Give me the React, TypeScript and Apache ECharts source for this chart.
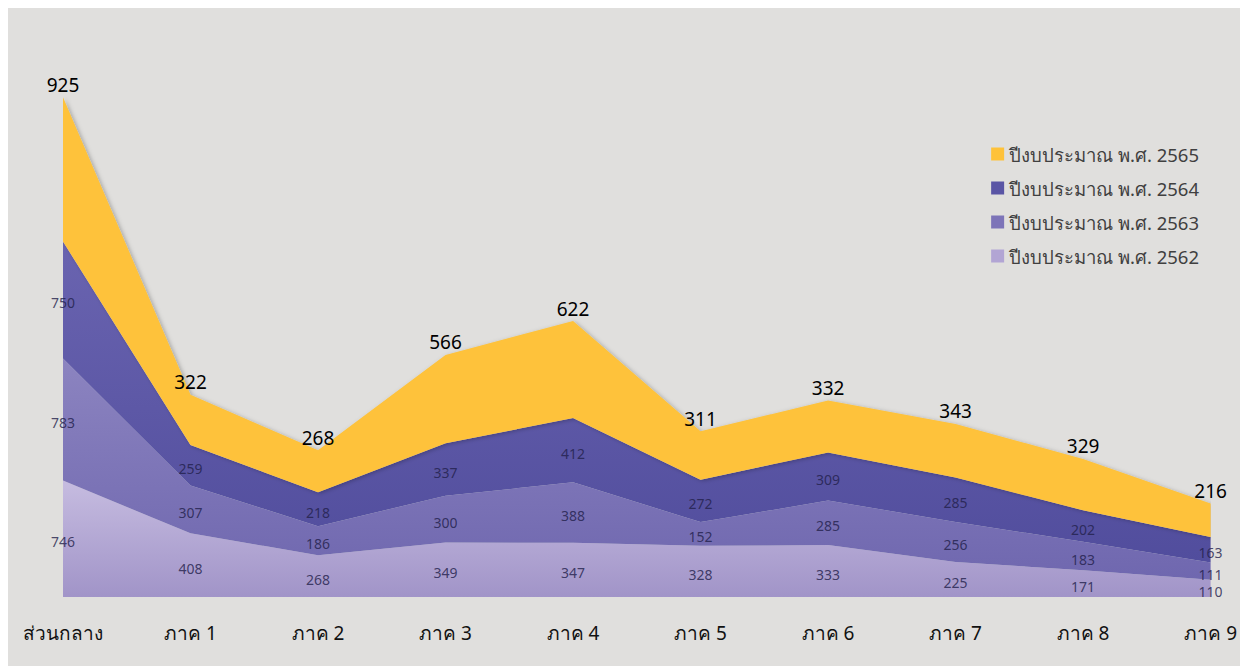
import React, { useEffect, useRef } from "react";
import * as echarts from "echarts";

const categories = ["ส่วนกลาง", "ภาค 1", "ภาค 2", "ภาค 3", "ภาค 4", "ภาค 5", "ภาค 6", "ภาค 7", "ภาค 8", "ภาค 9"];
const seriesNames = [
  "ปีงบประมาณ พ.ศ. 2562",
  "ปีงบประมาณ พ.ศ. 2563",
  "ปีงบประมาณ พ.ศ. 2564",
  "ปีงบประมาณ พ.ศ. 2565",
];
const budget2562 = [746, 408, 268, 349, 347, 328, 333, 225, 171, 110];
const budget2563 = [783, 307, 186, 300, 388, 152, 285, 256, 183, 111];
const budget2564 = [750, 259, 218, 337, 412, 272, 309, 285, 202, 163];
const budget2565 = [925, 322, 268, 566, 622, 311, 332, 343, 329, 216];

const FONT = "'Noto Sans', 'DejaVu Sans', sans-serif";

export default function App() {
  const ref = useRef<HTMLDivElement>(null);
  useEffect(() => {
    if (!ref.current) return;
    const chart = echarts.init(ref.current, undefined, { renderer: "svg" });
    const all = [budget2562, budget2563, budget2564, budget2565];
    const grad = (top: string, bottom: string) =>
      new echarts.graphic.LinearGradient(0, 0, 0, 1, [
        { offset: 0, color: top },
        { offset: 1, color: bottom },
      ]);
    const solid = ["#B2A5D4", "#7D74B8", "#5A55A5", "#FEC23A"];
    const fills = [
      grad("#C6BCE0", "#A194C8"),
      grad("#8C84C0", "#6F67AF"),
      grad("#6A64B0", "#514D9D"),
      "#FEC23A",
    ];
    const areaSeries = all.map((d, i) => ({
      name: seriesNames[i],
      type: "line",
      stack: "total",
      data: d,
      showSymbol: i === 3,
      symbol: "circle",
      symbolSize: 0,
      lineStyle: { width: 0 },
      itemStyle: { color: solid[i] },
      areaStyle:
        i === 3
          ? {
              color: fills[i],
              opacity: 1,
              shadowColor: "rgba(0,0,0,0.25)",
              shadowBlur: 4,
              shadowOffsetX: 2,
              shadowOffsetY: 1,
            }
          : { color: fills[i], opacity: 1 },
      label:
        i === 3
          ? {
              show: true,
              position: "top",
              distance: 3,
              fontSize: 19,
              color: "#000",
              fontFamily: FONT,
            }
          : { show: false },
      z: 2,
    }));
    const midSeries = [0, 1, 2].map((i) => ({
      name: "mid" + i,
      type: "scatter",
      symbolSize: 0,
      silent: true,
      z: 5,
      data: all[i].map((v, k) => {
        let base = 0;
        for (let j = 0; j < i; j++) base += all[j][k];
        return { value: [k, base + v / 2], raw: v };
      }),
      label: {
        show: true,
        position: "inside",
        offset: [0, 3],
        fontSize: 14,
        color: "#22204A",
        fontFamily: FONT,
        formatter: (p: any) => String(p.data.raw),
      },
    }));
    chart.setOption({
      animation: false,
      backgroundColor: "#E0DFDD",
      grid: { left: 55, right: 25, top: 43, bottom: 69 },
      legend: {
        data: [seriesNames[3], seriesNames[2], seriesNames[1], seriesNames[0]],
        orient: "vertical",
        right: 36,
        top: 131,
        icon: "rect",
        itemWidth: 13,
        itemHeight: 13,
        itemGap: 14,
        textStyle: { fontSize: 18.5, color: "#404040", fontFamily: FONT, lineHeight: 20 },
      },
      xAxis: {
        type: "category",
        data: categories,
        boundaryGap: false,
        axisLine: { show: false },
        axisTick: { show: false },
        axisLabel: { fontSize: 19, color: "#111", margin: 26, fontFamily: FONT },
      },
      yAxis: {
        type: "value",
        min: 0,
        max: 3500,
        show: false,
        splitLine: { show: false },
      },
      series: [...areaSeries, ...midSeries],
    });
    return () => chart.dispose();
  }, []);
  return (
    <div
      ref={ref}
      style={{ position: "fixed", left: 8, top: 8, width: 1232, height: 658 }}
    />
  );
}
